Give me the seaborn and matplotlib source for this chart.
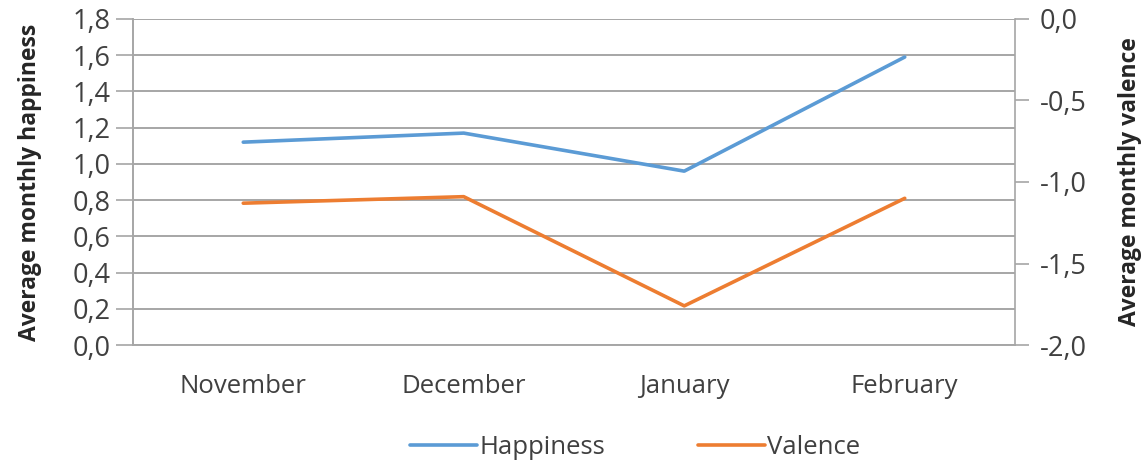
import matplotlib
matplotlib.use("Agg")
import matplotlib.pyplot as plt
import matplotlib.ticker as mticker
from matplotlib.lines import Line2D
import seaborn as sns
import pandas as pd

# Monthly averages
months = ["November", "December", "January", "February"]
happiness = [1.12, 1.17, 0.96, 1.59]
valence = [-1.13, -1.09, -1.76, -1.10]

sns.set_theme(style="white")
plt.rcParams["font.family"] = ["Open Sans", "DejaVu Sans"]

BLUE = "#5B9BD5"
ORANGE = "#ED7D31"
GRID = "#A6A6A6"
TEXT = "#404040"
FS = 18.5
FS_Y = 19.5

df = pd.DataFrame({"month": months, "happiness": happiness, "valence": valence})

fig = plt.figure(figsize=(11.43, 4.66), dpi=100)
ax = fig.add_axes([133 / 1143, 1 - 345 / 466, (1015 - 133) / 1143, (345 - 19) / 466])
ax2 = ax.twinx()

sns.lineplot(data=df, x="month", y="happiness", ax=ax, color=BLUE, linewidth=2.6, sort=False)
sns.lineplot(data=df, x="month", y="valence", ax=ax2, color=ORANGE, linewidth=2.6, sort=False)

comma = mticker.FuncFormatter(lambda v, p: f"{v:.1f}".replace(".", ","))

ax.set_xlim(-0.5, len(months) - 0.5)
ax.set_ylim(0, 1.8)
ax.set_yticks([i * 0.2 for i in range(10)])
ax.yaxis.set_major_formatter(comma)
ax.grid(axis="y", color=GRID, linewidth=1.4)
ax.set_axisbelow(True)

ax2.set_ylim(-2.0, 0.0)
ax2.set_yticks([-2.0, -1.5, -1.0, -0.5, 0.0])
ax2.yaxis.set_major_formatter(comma)
ax2.grid(False)

ax.set_xticks(range(len(months)))
ax.set_xticklabels(months)
ax.set_xticks([i - 0.5 for i in range(len(months) + 1)], minor=True)
ax.tick_params(axis="x", which="major", length=0, pad=21, labelsize=FS, labelcolor=TEXT)
ax.tick_params(axis="x", which="minor", length=9, width=1.2, color=GRID, direction="out")
ax.tick_params(axis="y", length=12, width=1.2, color=GRID, direction="out", labelsize=FS_Y,
               labelcolor=TEXT, pad=4, left=True)
ax2.tick_params(axis="y", length=10, width=1.2, color=GRID, direction="out", labelsize=FS_Y,
                labelcolor=TEXT, pad=8, right=True)

for a in (ax, ax2):
    a.spines["top"].set_visible(False)
    for s in ("left", "right", "bottom"):
        a.spines[s].set_color(GRID)
        a.spines[s].set_linewidth(1.2)
ax.spines["right"].set_visible(False)

ax.set_xlabel("")
ax.set_ylabel("Average monthly happiness", fontsize=16.5, fontweight="bold", color="#262626", labelpad=22)
ax2.set_ylabel("Average monthly valence", fontsize=16.5, fontweight="bold", color="#262626", labelpad=22)

handles = [Line2D([], [], color=BLUE, linewidth=2.6), Line2D([], [], color=ORANGE, linewidth=2.6)]
fig.legend(handles, ["Happiness", "Valence"], loc="center", bbox_to_anchor=(0.556, 0.04),
           ncol=2, frameon=False, fontsize=FS, handlelength=2.6, handletextpad=0.1,
           columnspacing=3.6, labelcolor=TEXT)

fig.savefig("out.png", dpi=100)
